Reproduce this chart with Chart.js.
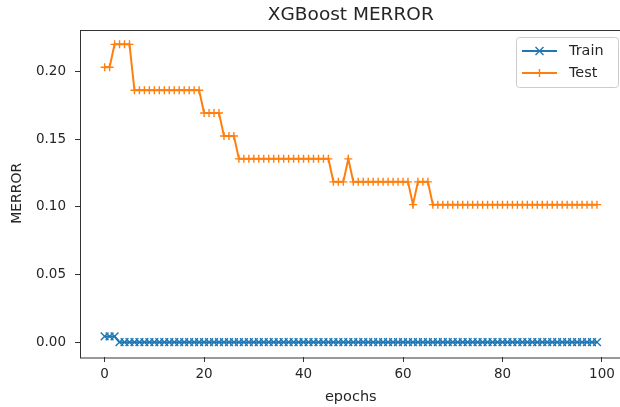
<!DOCTYPE html>
<html><head><meta charset="utf-8">
<script src="https://cdn.jsdelivr.net/npm/chart.js@4/dist/chart.umd.min.js"></script>
<style>html,body{margin:0;padding:0;background:#fff;overflow:hidden;width:620px;height:407px}#wrap{position:relative;width:620px;height:407px;overflow:hidden}canvas{display:block}</style>
</head><body><div id="wrap"><canvas id="c" width="622" height="407" style="width:622px;height:407px"></canvas></div>
<script>
const epochs = [0,1,2,3,4,5,6,7,8,9,10,11,12,13,14,15,16,17,18,19,20,21,22,23,24,25,26,27,28,29,30,31,32,33,34,35,36,37,38,39,40,41,42,43,44,45,46,47,48,49,50,51,52,53,54,55,56,57,58,59,60,61,62,63,64,65,66,67,68,69,70,71,72,73,74,75,76,77,78,79,80,81,82,83,84,85,86,87,88,89,90,91,92,93,94,95,96,97,98,99];
const trainMerror = [0.0042,0.0042,0.0042,0,0,0,0,0,0,0,0,0,0,0,0,0,0,0,0,0,0,0,0,0,0,0,0,0,0,0,0,0,0,0,0,0,0,0,0,0,0,0,0,0,0,0,0,0,0,0,0,0,0,0,0,0,0,0,0,0,0,0,0,0,0,0,0,0,0,0,0,0,0,0,0,0,0,0,0,0,0,0,0,0,0,0,0,0,0,0,0,0,0,0,0,0,0,0,0,0];
const testMerror = [
0.2034,0.2034,
0.2203,0.2203,0.2203,0.2203,
0.1864,0.1864,0.1864,0.1864,0.1864,0.1864,0.1864,0.1864,0.1864,0.1864,0.1864,0.1864,0.1864,0.1864,
0.1695,0.1695,0.1695,0.1695,
0.1525,0.1525,0.1525,
0.1356,0.1356,0.1356,0.1356,0.1356,0.1356,0.1356,0.1356,0.1356,0.1356,0.1356,0.1356,0.1356,0.1356,0.1356,0.1356,0.1356,0.1356,0.1356,
0.1186,0.1186,0.1186,
0.1356,
0.1186,0.1186,0.1186,0.1186,0.1186,0.1186,0.1186,0.1186,0.1186,0.1186,0.1186,0.1186,
0.1017,
0.1186,0.1186,0.1186,
0.1017,0.1017,0.1017,0.1017,0.1017,0.1017,0.1017,0.1017,0.1017,0.1017,0.1017,0.1017,0.1017,0.1017,0.1017,0.1017,0.1017,0.1017,0.1017,0.1017,0.1017,0.1017,0.1017,0.1017,0.1017,0.1017,0.1017,0.1017,0.1017,0.1017,0.1017,0.1017,0.1017,0.1017];
const seriesNames = ['Train','Test'];
const xTicks = [0,20,40,60,80,100];
const yTicks = [0,0.05,0.10,0.15,0.20];
const chartTitle = 'XGBoost MERROR';
const xLabel = 'epochs';
const yLabel = 'MERROR';

const BLUE = '#1f77b4', ORANGE = '#ff7f0e', TXT = '#262626', SPINE = '#333';
const FONT = '"DejaVu Sans", sans-serif';

const frame = {
  id: 'frame',
  afterDraw(chart) {
    const {ctx, chartArea: a} = chart;
    ctx.save();
    ctx.strokeStyle = SPINE; ctx.lineWidth = 1;
    ctx.strokeRect(Math.round(a.left) + 0.5, Math.round(a.top) + 0.5, a.right - a.left, a.bottom - a.top);
    // title
    ctx.fillStyle = TXT;
    ctx.font = '18.5px ' + FONT;
    ctx.textAlign = 'center'; ctx.textBaseline = 'middle';
    ctx.fillText(chartTitle, (a.left + a.right) / 2, 15);
    // legend
    const bx = 516.5, by = 37.5, bw = 102, bh = 50;
    ctx.fillStyle = 'rgba(255,255,255,0.8)';
    ctx.strokeStyle = '#cccccc';
    ctx.beginPath();
    ctx.roundRect(bx, by, bw, bh, 3);
    ctx.fill(); ctx.stroke();
    const rows = [{c: BLUE, s: 'x', y: 51}, {c: ORANGE, s: '+', y: 73}];
    rows.forEach((r, i) => {
      ctx.strokeStyle = r.c; ctx.lineWidth = 2;
      ctx.beginPath(); ctx.moveTo(522, r.y); ctx.lineTo(557, r.y); ctx.stroke();
      ctx.lineWidth = 1.4;
      const cx = 539.5, cy = r.y;
      ctx.beginPath();
      if (r.s === 'x') {
        ctx.moveTo(cx - 4, cy - 4); ctx.lineTo(cx + 4, cy + 4);
        ctx.moveTo(cx + 4, cy - 4); ctx.lineTo(cx - 4, cy + 4);
      } else {
        ctx.moveTo(cx - 4, cy); ctx.lineTo(cx + 4, cy);
        ctx.moveTo(cx, cy - 4); ctx.lineTo(cx, cy + 4);
      }
      ctx.stroke();
      ctx.fillStyle = TXT;
      ctx.font = '14.4px ' + FONT;
      ctx.textAlign = 'left'; ctx.textBaseline = 'middle';
      ctx.fillText(seriesNames[i], 569, r.y);
    });
    ctx.restore();
  }
};

new Chart(document.getElementById('c'), {
  type: 'line',
  data: {
    datasets: [
      {label: seriesNames[0], data: epochs.map((e, i) => ({x: e, y: trainMerror[i]})),
       borderColor: BLUE, backgroundColor: BLUE, borderWidth: 2, pointStyle: 'crossRot',
       pointRadius: 5.5, pointHoverRadius: 5.5, pointBorderWidth: 1.4, pointBorderColor: BLUE, tension: 0, fill: false, order: 1},
      {label: seriesNames[1], data: epochs.map((e, i) => ({x: e, y: testMerror[i]})),
       borderColor: ORANGE, backgroundColor: ORANGE, borderWidth: 2, pointStyle: 'cross',
       pointRadius: 4, pointHoverRadius: 4, pointBorderWidth: 1.4, pointBorderColor: ORANGE, tension: 0, fill: false, order: 0}
    ]
  },
  options: {
    responsive: false, maintainAspectRatio: false, animation: false, devicePixelRatio: 1,
    layout: {autoPadding: false, padding: {top: 29.5, right: 0.4, bottom: 0, left: 0}},
    plugins: {legend: {display: false}, tooltip: {enabled: false}, title: {display: false}},
    scales: {
      x: {
        type: 'linear', min: -4.95, max: 103.95,
        afterFit(s) { s.height = 50; s.paddingLeft = 0; s.paddingRight = 0; },
        afterBuildTicks(s) { s.ticks = xTicks.map(v => ({value: v})); },
        ticks: {callback: v => String(v), color: TXT, font: {family: FONT, size: 13.5}, padding: 4.5, maxRotation: 0, autoSkip: false},
        grid: {drawOnChartArea: false, drawTicks: true, tickLength: 5, color: SPINE, lineWidth: 1},
        border: {display: false},
        title: {display: true, text: xLabel, color: TXT, font: {family: FONT, size: 14.5}, padding: {top: 0, bottom: 1.3}}
      },
      y: {
        type: 'linear', min: -0.011, max: 0.2313,
        afterFit(s) { s.width = 80; s.paddingTop = 0; s.paddingBottom = 0; },
        afterBuildTicks(s) { s.ticks = yTicks.map(v => ({value: v})); },
        ticks: {callback: v => Number(v).toFixed(2), color: TXT, font: {family: FONT, size: 13.5}, padding: 9, autoSkip: false},
        grid: {drawOnChartArea: false, drawTicks: true, tickLength: 5, color: SPINE, lineWidth: 1},
        border: {display: false},
        title: {display: true, text: yLabel, color: TXT, font: {family: FONT, size: 14}, padding: {top: 9, bottom: 0}}
      }
    }
  },
  plugins: [frame]
});
</script>
</body></html>
